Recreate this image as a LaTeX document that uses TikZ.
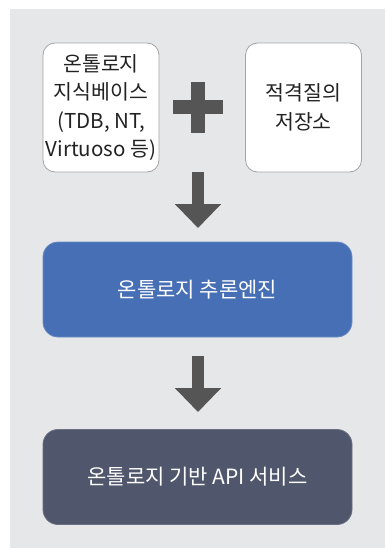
\documentclass[tikz,border=0pt]{standalone}
\usepackage{fontspec}
\setmainfont{Noto Sans CJK KR}
\usetikzlibrary{arrows.meta}
\definecolor{bgray}{HTML}{E6E7E9}
\definecolor{edgegray}{HTML}{A4A4A6}
\definecolor{txtdark}{HTML}{222222}
\definecolor{engblue}{HTML}{466FB5}
\definecolor{svcdark}{HTML}{50566B}
\definecolor{arrowgray}{HTML}{555555}
\tikzset{
  whitebox/.style={draw=edgegray, line width=0.8pt, fill=white, rounded corners=12pt,
    minimum width=116pt, minimum height=129pt, inner sep=0pt, align=center,
    text=txtdark, font=\fontsize{20.5}{28.5}\selectfont},
  widebox/.style={rounded corners=15pt, minimum width=309pt, minimum height=95pt,
    inner sep=0pt, align=center, text=white, font=\fontsize{21}{24}\selectfont},
  bigarrow/.style={draw=arrowgray, line width=12pt,
    -{Triangle[width=45pt, length=24pt]}}
}
\begin{document}
\begin{tikzpicture}[x=1pt, y=-1pt]
\useasboundingbox (0,0) rectangle (385,548);
\fill[bgray] (10,9) rectangle (385,548);
\node[whitebox] (kb) at (101,107.5) {온톨로지\\지식베이스\\(TDB, NT,\\Virtuoso 등)};
\node[whitebox] (store) at (303.5,107.5) {적격질의\\저장소};
\fill[arrowgray] (173,100.5) rectangle (223,114.5);
\fill[arrowgray] (191,82) rectangle (205,133);
\node[widebox, fill=engblue, draw=engblue!80!white, line width=0.8pt] (engine) at (197.5,289.5) {온톨로지 추론엔진};
\node[widebox, fill=svcdark, draw=svcdark!85!white, line width=0.8pt] (api) at (197.5,477) {온톨로지 기반 API 서비스};
\coordinate (a1s) at (198,172);
\coordinate (a1e) at (198,228);
\coordinate (a2s) at (198,356);
\coordinate (a2e) at (198,412);
\draw[bigarrow] (a1s) -- (a1e);
\draw[bigarrow] (a2s) -- (a2e);
\end{tikzpicture}
\end{document}
